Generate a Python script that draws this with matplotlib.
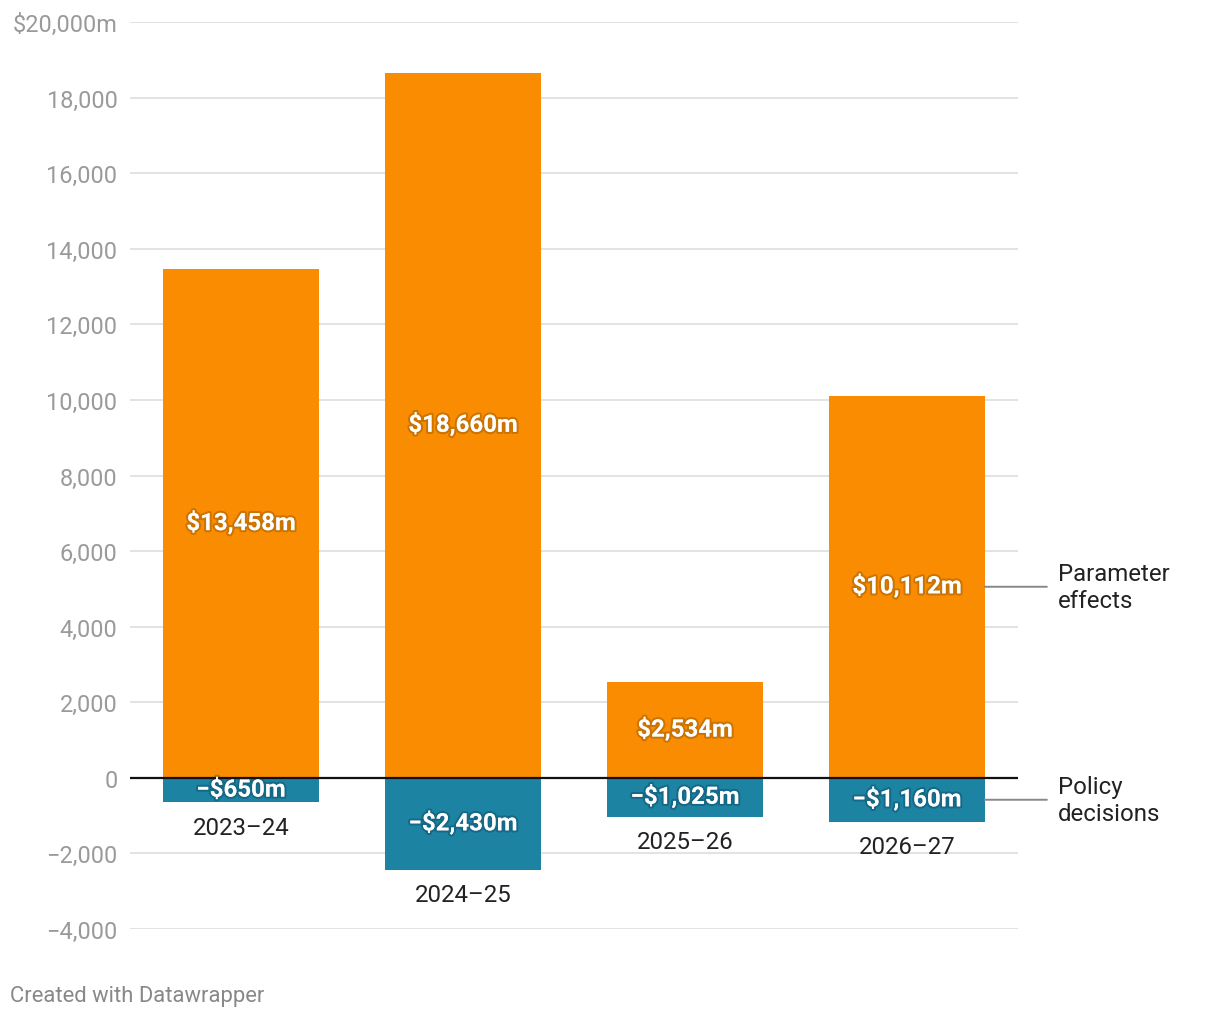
import matplotlib.pyplot as plt
import matplotlib.patheffects as pe

plt.rcParams['font.family'] = ['Roboto', 'DejaVu Sans']

# data
years = ['2023–24', '2024–25', '2025–26', '2026–27']
parameter_effects = [13458, 18660, 2534, 10112]
policy_decisions = [-650, -2430, -1025, -1160]
yticks = [-4000, -2000, 0, 2000, 4000, 6000, 8000, 10000, 12000, 14000, 16000, 18000, 20000]

orange = '#f98c00'
blue = '#1d83a3'

fig = plt.figure(figsize=(12.2, 10.2), dpi=100)
ax = fig.add_axes([130 / 1220, 1 - 930 / 1020, 888 / 1220, 907 / 1020])

x = range(len(years))
ax.bar(x, parameter_effects, width=0.70, color=orange, zorder=2)
ax.bar(x, policy_decisions, width=0.70, color=blue, zorder=2)

ax.set_xlim(-0.5, 3.5)
ax.set_ylim(-4000, 20000)

# grid
for t in yticks:
    if t != 0:
        ax.axhline(t, color='#e3e3e3', lw=1.4, zorder=0)
ax.axhline(0, color='#111111', lw=1.6, zorder=3)

ax.set_yticks(yticks)
labels = []
for t in yticks:
    s = f'{abs(t):,}'
    if t < 0:
        s = '−' + s
    if t == 20000:
        s = '$20,000m'
    labels.append(s)
ax.set_yticklabels(labels)
ax.tick_params(axis='y', length=0, pad=9, labelsize=16.9, labelcolor='#9a9a9a')
ax.set_xticks([])
for sp in ax.spines.values():
    sp.set_visible(False)

glow = [pe.withStroke(linewidth=3, foreground=(0.35, 0.2, 0.0, 0.28))]
glow_b = [pe.withStroke(linewidth=3, foreground=(0.0, 0.15, 0.25, 0.28))]

for i in x:
    p = parameter_effects[i]
    n = policy_decisions[i]
    ax.text(i, p / 2, f'${p:,}m', ha='center', va='center', color='white',
            fontsize=17.3, fontweight='bold', path_effects=glow, zorder=4)
    ax.text(i, n / 2, f'−${abs(n):,}m', ha='center', va='center', color='white',
            fontsize=17.3, fontweight='bold', path_effects=glow_b, zorder=4)
    ax.annotate(years[i], (i, n), xytext=(0, -18), textcoords='offset points',
                ha='center', va='center', fontsize=17.3, color='#222222')

# right-side labels with connector lines
last = len(years) - 1
for val, name in [(parameter_effects[last], 'Parameter\neffects'),
                  (policy_decisions[last], 'Policy\ndecisions')]:
    ax.annotate(name, (last + 0.35, val / 2),
                xytext=(last + 0.68, val / 2), textcoords='data',
                ha='left', va='center', fontsize=17.3, color='#222222',
                linespacing=1.25, annotation_clip=False,
                arrowprops=dict(arrowstyle='-', color='#888888', lw=1.4,
                                shrinkA=6, shrinkB=0))

fig.text(10 / 1220, 1 - 997 / 1020, 'Created with Datawrapper', ha='left', va='center',
         fontsize=15.8, color='#888888')

fig.savefig('out.png', dpi=100, facecolor='white')
